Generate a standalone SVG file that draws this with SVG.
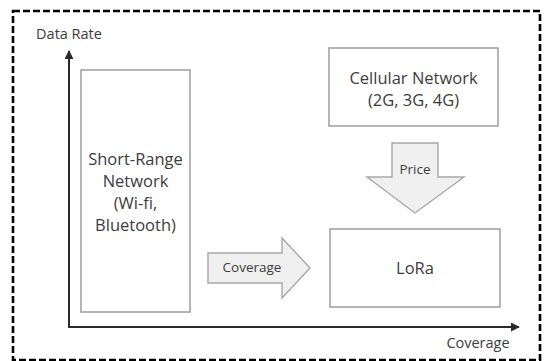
<svg xmlns="http://www.w3.org/2000/svg" width="544" height="361" viewBox="0 0 544 361">
<defs>
<style>
.t{font-family:"Open Sans","Liberation Sans",sans-serif;fill:#3c3c3c;text-anchor:middle}
.box{fill:#fff;stroke:#a3a3a3;stroke-width:1.6}
.arr{fill:#f0f0f0;stroke:#a8a8a8;stroke-width:1.4}
.axis{stroke:#2a2a2a;stroke-width:2;fill:none}
</style>
<marker id="ah" viewBox="0 0 10 10" refX="9" refY="5" markerWidth="4.5" markerHeight="4.5" orient="auto" markerUnits="strokeWidth">
<path d="M0,0 L10,5 L0,10 z" fill="#2a2a2a"/>
</marker>
</defs>
<rect width="544" height="361" fill="#fff"/>
<rect x="13" y="11" width="527" height="349" fill="none" stroke="#000" stroke-width="2.6" stroke-dasharray="7 3"/>
<g id="connectors">
<path class="axis" d="M69,327 V51" marker-end="url(#ah)"/>
<path class="axis" d="M68,327 H519" marker-end="url(#ah)"/>
</g>
<g id="axis-labels">
<text class="t" x="69" y="39" font-size="14.5">Data Rate</text>
<text class="t" x="478" y="348" font-size="14.5">Coverage</text>
</g>
<g id="short-range">
<rect class="box" x="81" y="70" width="109" height="242"/>
<text class="t" x="135.5" y="165" font-size="16.5">Short-Range</text>
<text class="t" x="135.5" y="187" font-size="16.5">Network</text>
<text class="t" x="135.5" y="209" font-size="16.5">(Wi-fi,</text>
<text class="t" x="135.5" y="231" font-size="16.5">Bluetooth)</text>
</g>
<g id="cellular">
<rect class="box" x="329" y="48" width="169" height="78"/>
<text class="t" x="413.5" y="84" font-size="16.5">Cellular Network</text>
<text class="t" x="413.5" y="106" font-size="16.5">(2G, 3G, 4G)</text>
</g>
<g id="lora">
<rect class="box" x="330" y="229" width="170" height="78"/>
<text class="t" x="415" y="274" font-size="16.5">LoRa</text>
</g>
<g id="price-arrow">
<polygon class="arr" points="392,143 438,143 438,177 464,177 415,213 367,177 392,177"/>
<text class="t" x="415" y="174" font-size="13.5">Price</text>
</g>
<g id="coverage-arrow">
<polygon class="arr" points="208,253 282,253 282,238 310,268 282,298 282,283 208,283"/>
<text class="t" x="252" y="272" font-size="13.5">Coverage</text>
</g>
</svg>
